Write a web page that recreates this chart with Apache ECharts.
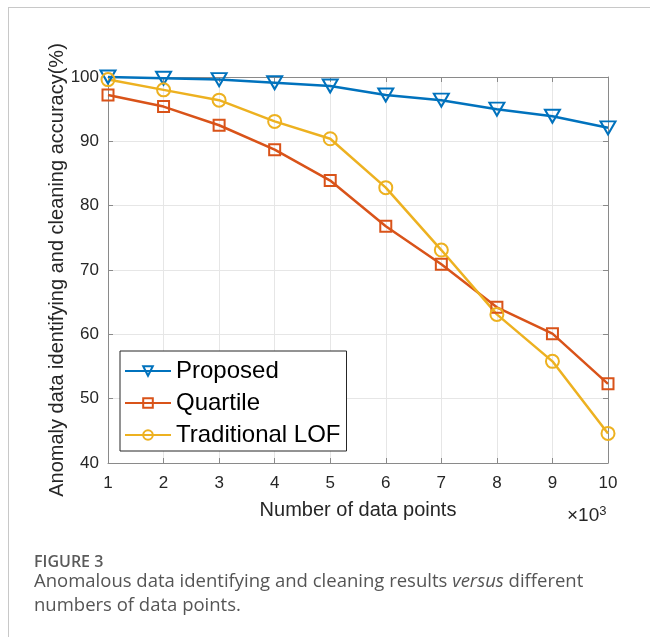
<!DOCTYPE html>
<html>
<head>
<meta charset="utf-8">
<script src="https://cdn.jsdelivr.net/npm/echarts@6/dist/echarts.min.js"></script>
<style>
html,body{margin:0;padding:0;background:#fff;}
#chart{width:650px;height:637px;}
</style>
</head>
<body>
<div id="chart"></div>
<script>
// ---- data ----
const xValues = [1, 2, 3, 4, 5, 6, 7, 8, 9, 10];
const proposed = [100, 99.8, 99.6, 99.1, 98.6, 97.2, 96.4, 95.0, 93.9, 92.1];
const quartile = [97.2, 95.4, 92.5, 88.7, 83.9, 76.8, 70.9, 64.2, 60.1, 52.3];
const lof = [99.6, 98.0, 96.4, 93.1, 90.4, 82.8, 73.1, 63.1, 55.8, 44.6];
const seriesNames = ['Proposed', 'Quartile', 'Traditional LOF'];
const xTitle = 'Number of data points';
const yTitle = 'Anomaly data identifying and cleaning accuracy(%)';

const colors = ['#0072BD', '#D95319', '#EDB120'];
const axisGray = '#8a8a8a';
const font = '"Liberation Sans", Arial, sans-serif';

function pairs(ys) { return xValues.map((x, i) => [x, ys[i]]); }

function mkSeries(name, ys, color, symbol, size, rotate) {
  return {
    name: name, type: 'line', data: pairs(ys),
    symbol: symbol, symbolSize: size, symbolRotate: rotate || 0,
    clip: false, color: color,
    lineStyle: { color: color, width: 2.5 },
    itemStyle: { color: 'rgba(255,255,255,0)', borderColor: color, borderWidth: 2 },
    emphasis: { disabled: true }, animation: false
  };
}

const chart = echarts.init(document.getElementById('chart'), null, { renderer: 'canvas' });
const gridBox = { left: 108, top: 77, width: 500, height: 386 };

chart.setOption({
  backgroundColor: '#fff',
  animation: false,
  grid: Object.assign({ containLabel: false }, gridBox),
  xAxis: [{
    type: 'value', min: 1, max: 10, interval: 1, position: 'bottom',
    name: xTitle, nameLocation: 'middle', nameGap: 37, nameMoveOverlap: false,
    nameTextStyle: { fontFamily: font, fontSize: 20, color: '#262626' },
    axisLine: { show: true, lineStyle: { color: axisGray, width: 1 } },
    axisTick: { show: true, inside: true, length: 5, lineStyle: { color: axisGray } },
    axisLabel: { fontFamily: font, fontSize: 17, color: '#262626', margin: 12 },
    splitLine: { show: true, lineStyle: { color: '#e6e6e6', width: 1 } }
  }, {
    type: 'value', min: 1, max: 10, interval: 1, position: 'top',
    axisLine: { show: true, lineStyle: { color: axisGray, width: 1 } },
    axisTick: { show: true, inside: true, length: 5, lineStyle: { color: axisGray } },
    axisLabel: { show: false }, splitLine: { show: false }
  }],
  yAxis: [{
    type: 'value', min: 40, max: 100, interval: 10, position: 'left',
    name: yTitle, nameLocation: 'middle', nameGap: 41, nameRotate: 90, nameMoveOverlap: false,
    nameTextStyle: { fontFamily: font, fontSize: 20, color: '#262626' },
    axisLine: { show: true, lineStyle: { color: axisGray, width: 1 } },
    axisTick: { show: true, inside: true, length: 5, lineStyle: { color: axisGray } },
    axisLabel: { fontFamily: font, fontSize: 17, color: '#262626', margin: 9 },
    splitLine: { show: true, lineStyle: { color: '#e6e6e6', width: 1 } }
  }, {
    type: 'value', min: 40, max: 100, interval: 10, position: 'right',
    axisLine: { show: true, lineStyle: { color: axisGray, width: 1 } },
    axisTick: { show: true, inside: true, length: 5, lineStyle: { color: axisGray } },
    axisLabel: { show: false }, splitLine: { show: false }
  }],
  legend: {
    orient: 'vertical', left: 120, top: 351,
    data: seriesNames,
    backgroundColor: '#fff', borderColor: '#262626', borderWidth: 1,
    padding: [7, 6, 3, 4], itemWidth: 46, itemHeight: 12, itemGap: 6,
    textStyle: { fontFamily: font, fontSize: 24, color: '#000', lineHeight: 26 },
    z: 10
  },
  series: [
    mkSeries(seriesNames[0], proposed, colors[0], 'triangle', [15, 13], 180),
    mkSeries(seriesNames[1], quartile, colors[1], 'rect', 11),
    mkSeries(seriesNames[2], lof, colors[2], 'circle', 13)
  ],
  graphic: [
    { type: 'line', shape: { x1: 8, y1: 7.5, x2: 650, y2: 7.5 }, style: { stroke: '#c8c8c8', lineWidth: 1 } },
    { type: 'line', shape: { x1: 8.5, y1: 7, x2: 8.5, y2: 637 }, style: { stroke: '#c8c8c8', lineWidth: 1 } },
    {
      type: 'text', left: 567, top: 505,
      style: {
        text: '×10{s|3}', font: '19px ' + font, fill: '#262626',
        rich: { s: { fontSize: 13, verticalAlign: 'top', padding: [0, 0, 9, 0] } }
      }
    },
    {
      type: 'text', left: 34, top: 554,
      style: { text: 'FIGURE 3', font: '600 16px "Open Sans", sans-serif', fill: '#5a5a5a' }
    },
    {
      type: 'text', left: 34, top: 570,
      style: {
        text: 'Anomalous data identifying and cleaning results {i|versus} different\nnumbers of data points.',
        font: '18.5px "Open Sans", sans-serif', fill: '#555', lineHeight: 24,
        rich: { i: { fontStyle: 'italic', fontFamily: '"Open Sans", sans-serif', fontSize: 18.5, fill: '#555', lineHeight: 24 } }
      }
    }
  ]
});
</script>
</body>
</html>
